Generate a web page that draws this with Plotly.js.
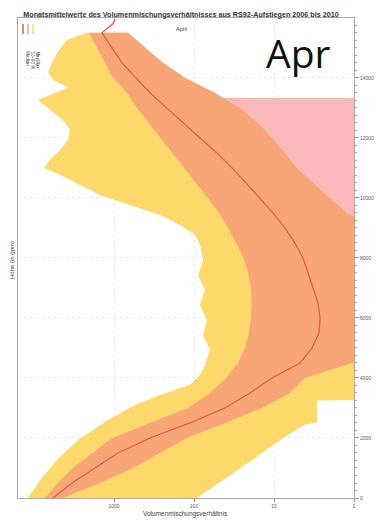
<!DOCTYPE html>
<html>
<head>
<meta charset="utf-8">
<script src="https://cdn.plot.ly/plotly-3.0.1.min.js"></script>
<style>
  html, body { margin: 0; padding: 0; background: #fff; }
  #chart { width: 376px; height: 524px; }
</style>
</head>
<body>
<div id="chart"></div>
<script>
// Altitude grid (gpm) shared by the inner band
const alt = [0, 500, 1000, 1500, 2000, 2500, 3000, 3500, 4000, 4500, 5000, 5500,
             6000, 6500, 7000, 7500, 8000, 8500, 9000, 9500, 10000, 10500, 11000, 11500,
             12000, 12500, 13000, 13500, 14000, 14500, 15000, 15500];

// Inner band: upper and lower percentile of the mixing ratio
const bandHigh = [7300, 5000, 3250, 1880, 1060, 355, 119, 63, 39.8, 28.2, 23, 20.5,
                  19.4, 19, 19.4, 21, 24, 29.9, 37.6, 48.7, 66.8, 94.4, 133, 188,
                  266, 376, 516, 688, 1030, 1300, 1630, 2050];
const bandLow  = [4341, 1496, 579, 266, 122, 41, 14.1, 6.3, 4.1, 1.06, 0.5, 0.5,
                  0.5, 0.5, 0.5, 0.5, 0.5, 0.5, 0.5, 1.22, 2.0, 3.25, 5.2, 7.3,
                  10.6, 15.8, 26.6, 55, 130, 244, 410, 668];

// Median profile
const medAlt = [0, 500, 1000, 1500, 2000, 2500, 3000, 3500, 4000, 4500, 5000, 5500,
                6000, 6500, 7000, 7500, 8000, 8500, 9000, 9500, 10000, 10500, 11000, 11500,
                12000, 12500, 13000, 13500, 14000, 14500, 15000, 15500, 15670, 15800, 15950];
const median = [5800, 3350, 1730, 890, 355, 112, 41, 20, 10.6, 4.7, 3.35, 2.74,
                2.66, 2.82, 3.25, 3.76, 4.34, 5.5, 7.3, 10.3, 15, 22.4, 33.5, 51.6,
                84, 137, 224, 355, 531, 794, 1060, 1410, 1190, 1030, 970];

// Maximum of all ascents
const maxAlt = [0, 600, 1270, 1930, 2600, 3100, 3430, 3770, 4100, 4430, 4930, 5430,
                5930, 6430, 6930, 7430, 7930, 8430, 8770, 9100, 9430, 9770, 10100, 10430,
                10770, 11000, 11270, 11600, 11930, 12270, 12600, 13000, 13270, 13430, 13670, 13930,
                14200, 14830, 15270, 15500];
const maxVal = [11900, 8400, 5160, 2820, 1190, 546, 266, 112, 84, 73, 63, 77,
                69, 84, 73, 89, 77, 84, 97, 150, 266, 631, 1500, 2660,
                4730, 7500, 6310, 4730, 3760, 3550, 4340, 6680, 8910, 6310, 3760, 5790,
                6680, 5160, 3870, 2200];

// Minimum of all ascents (0.5 = below the axis range)
const minAlt = [0, 500, 1000, 1500, 2000, 2450, 2520, 3250, 3280, 13333, 13340,
                13500, 14000, 14500, 15000, 15500];
const minVal = [92, 50, 26.6, 14.1, 7.7, 4.1, 2.9, 2.9, 0.5, 0.5, 43,
                55, 130, 244, 410, 668];

// Upper-right area outside the inner band
const pinkAlt  = [9250, 9500, 10000, 10500, 11000, 11500, 12000, 12500, 13000, 13333];
const pinkEdge = [1.0, 1.22, 2.0, 3.25, 5.2, 7.3, 10.6, 15.8, 26.6, 43];

const heightTicks = [0, 2000, 4000, 6000, 8000, 10000, 12000, 14000];
const ratioTicks = [1000, 100, 10, 1];
const ratioLabels = ['1000', '100', '10', '1'];

const C_YELLOW = '#FDD96C';
const C_ORANGE = '#F8A578';
const C_PINK = '#F9B9BB';
const C_RED = '#E35D4A';

const rev = a => a.slice().reverse();

const traces = [
  { // min–max envelope
    x: maxVal.concat(rev(minVal)), y: maxAlt.concat(rev(minAlt)),
    mode: 'lines', fill: 'toself', fillcolor: C_YELLOW, line: {width: 0},
    hoverinfo: 'skip'
  },
  { // region right of the inner band
    x: pinkEdge.concat([0.5, 0.5]), y: pinkAlt.concat([13333, 9250]),
    mode: 'lines', fill: 'toself', fillcolor: C_PINK, line: {width: 0},
    hoverinfo: 'skip'
  },
  { // inner percentile band
    x: bandHigh.concat(rev(bandLow)), y: alt.concat(rev(alt)),
    mode: 'lines', fill: 'toself', fillcolor: C_ORANGE, line: {width: 0},
    hoverinfo: 'skip'
  },
  { // median
    x: median, y: medAlt, mode: 'lines',
    line: {color: C_RED, width: 1.3}
  }
];

// plot area in pixels: x 18..354, y 18..498
const px = v => (v - 18) / 336;
const py = v => (498 - v) / 480;

const legendItems = [
  {x: 23, color: C_RED, text: 'Median'},
  {x: 28, color: C_ORANGE, text: '10–90 %'},
  {x: 33, color: C_YELLOW, text: 'Min/Max'}
];

const shapes = legendItems.map(it => ({
  type: 'line', xref: 'paper', yref: 'paper',
  x0: px(it.x), x1: px(it.x), y0: py(24), y1: py(34),
  line: {color: it.color, width: 1.5}
}));

const annotations = [
  {text: 'April', xref: 'paper', yref: 'paper', x: px(181), y: py(24),
   showarrow: false, font: {size: 5.5, color: '#444'}},
  {text: 'Apr', xref: 'paper', yref: 'paper', x: px(298), y: py(53),
   xanchor: 'center', yanchor: 'middle', showarrow: false,
   font: {size: 39, color: '#111', family: 'Open Sans, sans-serif'}},
  {text: 'Höhe (in gpm)', xref: 'paper', yref: 'paper', x: px(7), y: py(260),
   textangle: -90, showarrow: false, font: {size: 6, color: '#444'}},
  {text: 'Volumenmischungsverhältnis', xref: 'paper', yref: 'paper', x: px(185), y: py(520),
   showarrow: false, font: {size: 6.5, color: '#444'}}
].concat(legendItems.map(it => ({
  text: it.text, xref: 'paper', yref: 'paper', x: px(it.x), y: py(49),
  textangle: 90, showarrow: false, font: {size: 4.5, color: '#444'}
})));

const layout = {
  width: 376, height: 524,
  margin: {l: 18, r: 22, t: 18, b: 26, pad: 0},
  paper_bgcolor: '#fff', plot_bgcolor: '#fff',
  showlegend: false,
  font: {family: 'Liberation Sans, Arial, sans-serif', color: '#444'},
  title: {
    text: '<b>Monatsmittelwerte des Volumenmischungsverhältnisses aus RS92-Aufstiegen 2006 bis 2010</b>',
    font: {size: 7.2, color: '#333'},
    xref: 'container', x: 181 / 376, xanchor: 'center',
    yref: 'container', y: 1 - 14 / 524, yanchor: 'middle'
  },
  xaxis: {
    type: 'log', range: [4.2, 0],
    tickmode: 'array', tickvals: ratioTicks, ticktext: ratioLabels,
    tickfont: {size: 5, color: '#555'},
    ticks: 'outside', ticklen: 3, tickcolor: '#999',
    showline: true, linecolor: '#a8a8a8', linewidth: 1, mirror: true,
    showgrid: true, gridcolor: '#ebebeb', griddash: 'dot',
    zeroline: false, fixedrange: true
  },
  yaxis: {
    range: [0, 15995], side: 'right',
    tickmode: 'array', tickvals: heightTicks, tickformat: 'd',
    tickfont: {size: 5, color: '#555'},
    ticks: 'outside', ticklen: 4, tickcolor: '#999',
    minor: {dtick: 250, tick0: 0, ticks: 'outside', ticklen: 2, tickcolor: '#aaa', showgrid: false},
    showline: true, linecolor: '#a8a8a8', linewidth: 1, mirror: true,
    showgrid: true, gridcolor: '#ebebeb', griddash: 'dot',
    zeroline: false, fixedrange: true
  },
  shapes: shapes,
  annotations: annotations
};

Plotly.newPlot('chart', traces, layout, {staticPlot: true, displayModeBar: false});
</script>
</body>
</html>
